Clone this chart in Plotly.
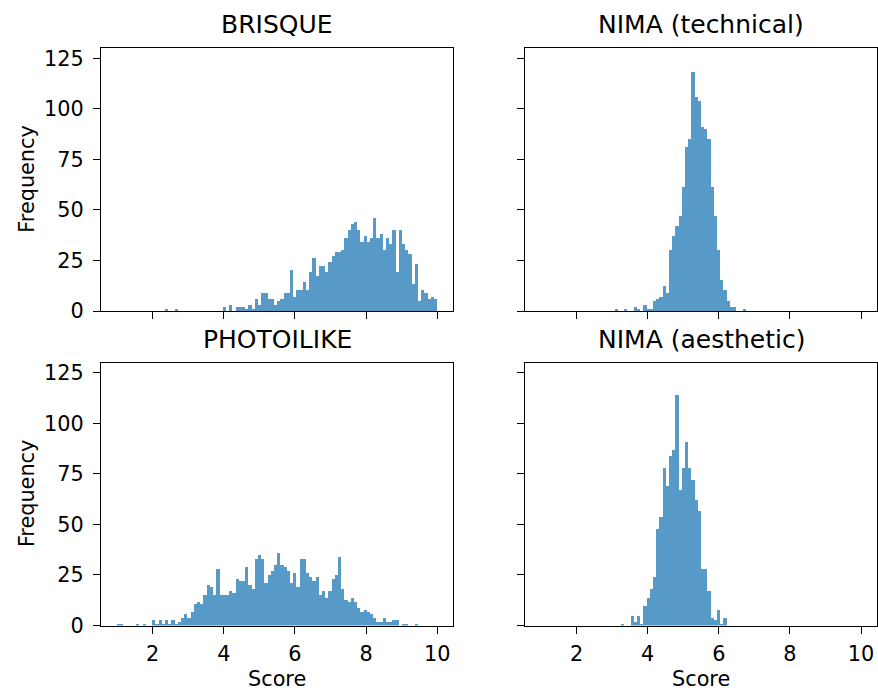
import numpy as np
import plotly.graph_objects as go

# ---- data: common histogram bins (100 bins on [1, 10]) ----
BIN_START = 1.0
BIN_WIDTH = 0.09
N_BINS = 100

titles = ["BRISQUE", "NIMA (technical)", "PHOTOILIKE", "NIMA (aesthetic)"]

brisque_counts = [
    0, 0, 0, 0, 0, 0, 0, 0, 0, 0,
    0, 0, 0, 0, 0, 1, 0, 0, 1, 0,
    0, 0, 0, 0, 0, 0, 0, 0, 0, 0,
    0, 0, 0, 2, 0, 3, 0, 2, 2, 2,
    1, 3, 1, 6, 3, 9, 9, 6, 6, 3,
    5, 6, 9, 9, 20, 7, 10, 10, 14, 10,
    19, 26, 17, 22, 22, 19, 24, 27, 29, 29,
    30, 36, 40, 43, 44, 40, 34, 37, 34, 36,
    46, 36, 38, 30, 36, 33, 40, 19, 40, 33,
    30, 28, 13, 23, 5, 10, 9, 6, 7, 6,
]

nima_technical_counts = [
    0, 0, 0, 0, 0, 0, 0, 0, 0, 0,
    0, 0, 0, 0, 0, 0, 0, 0, 0, 0,
    0, 0, 0, 1, 0, 0, 1, 0, 0, 2,
    1, 0, 3, 1, 1, 5, 6, 7, 12, 9,
    30, 37, 42, 47, 61, 81, 85, 118, 106, 104,
    91, 90, 85, 61, 47, 30, 15, 10, 5, 2,
    2, 0, 0, 1, 0, 0, 0, 0, 0, 0,
    0, 0, 0, 0, 0, 0, 0, 0, 0, 0,
    0, 0, 0, 0, 0, 0, 0, 0, 0, 0,
    0, 0, 0, 0, 0, 0, 0, 0, 0, 0,
]

photoilike_counts = [
    1, 1, 0, 0, 0, 0, 1, 0, 1, 0,
    0, 3, 1, 3, 1, 3, 1, 3, 1, 2,
    4, 6, 4, 7, 11, 12, 11, 15, 20, 19,
    15, 28, 15, 15, 15, 17, 16, 23, 22, 22,
    29, 20, 18, 33, 35, 33, 21, 25, 27, 30,
    36, 30, 29, 27, 21, 26, 19, 33, 33, 26,
    24, 22, 24, 15, 17, 14, 17, 23, 25, 34,
    18, 13, 12, 14, 12, 9, 7, 8, 7, 6,
    4, 2, 2, 4, 2, 2, 3, 3, 0, 1,
    1, 0, 0, 1, 0, 0, 0, 0, 0, 0,
]

nima_aesthetic_counts = [
    0, 0, 0, 0, 0, 0, 0, 0, 0, 0,
    0, 0, 0, 0, 0, 0, 0, 0, 0, 0,
    0, 0, 0, 0, 0, 1, 0, 0, 5, 2,
    5, 1, 10, 14, 18, 24, 48, 54, 78, 69,
    84, 87, 114, 67, 78, 91, 78, 72, 62, 57,
    28, 28, 17, 4, 3, 8, 1, 4, 0, 0,
    0, 0, 0, 0, 0, 0, 0, 0, 0, 0,
    0, 0, 0, 0, 0, 0, 0, 0, 0, 0,
    0, 0, 0, 0, 0, 0, 0, 0, 0, 0,
    0, 0, 0, 0, 0, 0, 0, 0, 0, 0,
]

x_ticks = [2, 4, 6, 8, 10]
y_ticks = [0, 25, 50, 75, 100, 125]
x_label = "Score"
y_label = "Frequency"

# ---- figure ----
W = 878
H = 704            # drawn height (the photo is scaled back to 691)
SY = H / 691.0     # vertical factor from the 691-px plan
FONT = "DejaVu Sans"
BAR_COLOR = "rgba(31,119,180,0.75)"

centers = BIN_START + BIN_WIDTH * (np.arange(N_BINS) + 0.5)
series = [brisque_counts, nima_technical_counts, photoilike_counts, nima_aesthetic_counts]

# axes boxes in plan pixels (left, top, right, bottom)
boxes = [
    (101, 47.3, 453.3, 310.0),
    (525, 47.3, 877.0, 310.0),
    (101, 361.7, 453.3, 624.5),
    (525, 361.7, 877.0, 624.5),
]
title_centers_y = [24, 24, 338.4, 338.4]


def py(v):
    """plan pixel (from top, 691 tall) -> paper fraction"""
    return 1 - v * SY / H


fig = go.Figure()
layout = dict(
    width=W, height=H, autosize=False,
    margin=dict(l=0, r=0, t=0, b=0),
    paper_bgcolor="white", plot_bgcolor="white",
    showlegend=False, bargap=0,
    font=dict(family=FONT, size=20.8, color="black"),
)

annotations = []
for i, (counts, title, box, ty) in enumerate(zip(series, titles, boxes, title_centers_y)):
    n = i + 1
    xa = "x" if n == 1 else f"x{n}"
    ya = "y" if n == 1 else f"y{n}"
    fig.add_trace(go.Bar(
        x=centers, y=counts, width=BIN_WIDTH,
        marker=dict(color=BAR_COLOR, line=dict(width=0)),
        xaxis=xa, yaxis=ya,
    ))
    l, t, r, b = box
    xdom = [l / W, r / W]
    ydom = [py(b), py(t)]
    common = dict(
        showline=True, mirror=True, linecolor="black", linewidth=1.3,
        ticks="outside", ticklen=7, tickwidth=1.3, tickcolor="black",
        showgrid=False, zeroline=False,
        tickfont=dict(family=FONT, size=20.8, color="black"),
    )
    layout["xaxis" if n == 1 else f"xaxis{n}"] = dict(
        domain=xdom, range=[0.55, 10.45], tickvals=x_ticks,
        showticklabels=(n >= 3), anchor=ya, ticklabelstandoff=2, **common)
    layout["yaxis" if n == 1 else f"yaxis{n}"] = dict(
        domain=ydom, range=[0, 130], tickvals=y_ticks,
        showticklabels=(n % 2 == 1), anchor=xa, ticklabelstandoff=5, **common)
    # subplot title
    annotations.append(dict(
        text=title, xref="paper", yref="paper",
        x=(l + r) / 2 / W, y=py(ty), yanchor="middle", xanchor="center",
        showarrow=False, font=dict(family=FONT, size=25, color="black")))
    if n % 2 == 1:
        annotations.append(dict(
            text=y_label, xref="paper", yref="paper", textangle=-90,
            x=27 / W, y=py((t + b) / 2), xanchor="center", yanchor="middle",
            showarrow=False, font=dict(family=FONT, size=20.8, color="black")))
    if n >= 3:
        annotations.append(dict(
            text=x_label, xref="paper", yref="paper",
            x=(l + r) / 2 / W, y=py(678), xanchor="center", yanchor="middle",
            showarrow=False, font=dict(family=FONT, size=20.8, color="black")))

layout["annotations"] = annotations
fig.update_layout(**layout)

fig.write_html(
    "out.html",
    default_width=f"{W}px",
    default_height=f"{H}px",
    config={"displayModeBar": False, "responsive": False},
    post_script="document.body.style.margin='0';document.body.style.overflow='hidden';",
)
